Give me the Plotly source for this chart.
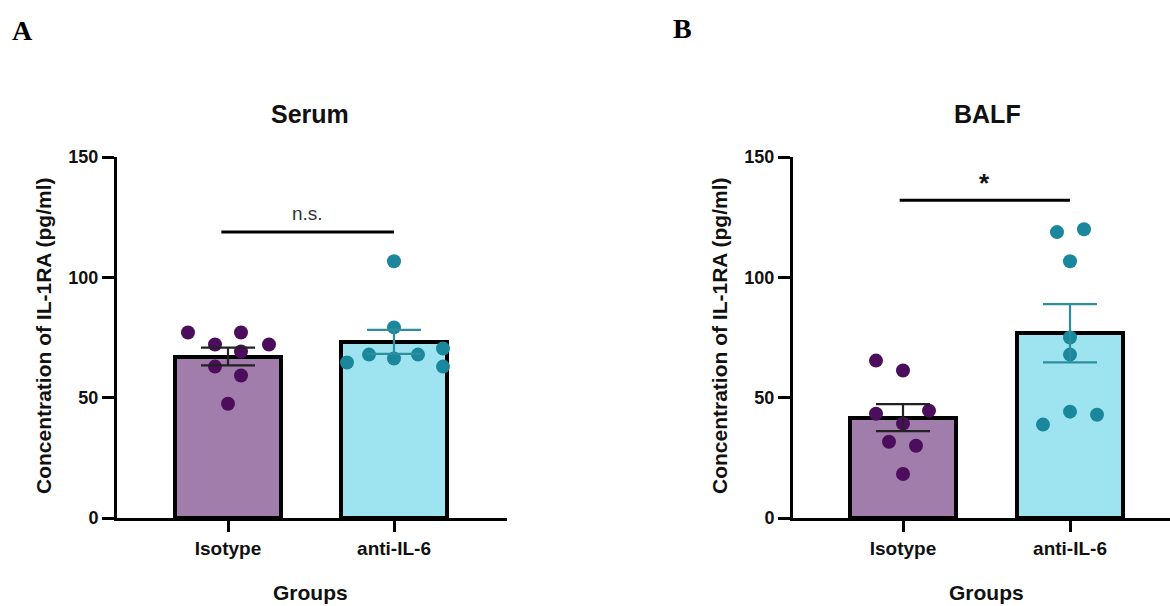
import plotly.graph_objects as go

# ---------------- data ----------------
categories = ["Isotype", "anti-IL-6"]

serum_isotype = [77.1, 77.1, 72.1, 72.1, 69.2, 62.9, 59.2, 47.5]
serum_anti = [106.7, 79.2, 64.6, 67.9, 66.3, 67.9, 70.4, 62.9]
serum_mean = [67.1, 73.2]
serum_sem = [3.7, 5.0]

balf_isotype = [65.4, 61.3, 43.3, 44.6, 39.2, 31.7, 30.0, 18.3]
balf_anti = [118.8, 120.0, 106.7, 75.0, 67.9, 38.8, 44.2, 42.9]
balf_mean = [41.7, 76.8]
balf_sem = [5.6, 12.1]

y_ticks = [0, 50, 100, 150]
serum_sig = "n.s."
balf_sig = "*"

# ---------------- layout helpers (positions / styles) ----------------
serum_iso_dx = [-40, 13, -13, 41, 13, -13, 13, 0]
serum_anti_dx = [0, 0, -47, -25, 0, 24, 49, 49]
balf_iso_dx = [-27, 0, -27, 26, 0, -14, 13, 0]
balf_anti_dx = [-13, 14, 0, 0, 0, -27, 0, 27]

W, H = 1170, 606
PX_A = 166.0
PX_B = 167.0

ISO_FILL = "#A07DAA"
ANTI_FILL = "#9EE4F0"
ISO_DOT = "#4B0D5C"
ANTI_DOT = "#1A879C"
ISO_ERR = "#222222"
ANTI_ERR = "#2C8E9F"

FONT = "Liberation Sans, Arial, sans-serif"

fig = go.Figure()


def add_panel(xa, ya, means, sems, iso_pts, anti_pts, iso_dx, anti_dx, pxu):
    fills = [ISO_FILL, ANTI_FILL]
    dots = [ISO_DOT, ANTI_DOT]
    errc = [ISO_ERR, ANTI_ERR]
    pts = [iso_pts, anti_pts]
    dxs = [iso_dx, anti_dx]
    for i in range(2):
        fig.add_trace(go.Bar(
            x=[i], y=[means[i]], width=0.64,
            marker=dict(color=fills[i], line=dict(color="black", width=4)),
            xaxis=xa, yaxis=ya, showlegend=False, hoverinfo="skip",
        ))
    for i in range(2):
        fig.add_trace(go.Scatter(
            x=[i + d / pxu for d in dxs[i]], y=pts[i], mode="markers",
            marker=dict(color=dots[i], size=14, line=dict(width=0)),
            xaxis=xa, yaxis=ya, showlegend=False, cliponaxis=False,
        ))
    for i in range(2):
        fig.add_trace(go.Scatter(
            x=[i], y=[means[i]], mode="markers",
            marker=dict(color="rgba(0,0,0,0)", size=1),
            error_y=dict(type="data", array=[sems[i]], visible=True,
                         color=errc[i], thickness=2.2, width=27),
            xaxis=xa, yaxis=ya, showlegend=False, hoverinfo="skip",
        ))


add_panel("x", "y", serum_mean, serum_sem, serum_isotype, serum_anti,
          serum_iso_dx, serum_anti_dx, PX_A)
add_panel("x2", "y2", balf_mean, balf_sem, balf_isotype, balf_anti,
          balf_iso_dx, balf_anti_dx, PX_B)

ydom = [(H - 518) / H, (H - 157) / H]

xcommon = dict(
    tickvals=[0, 1], ticktext=categories, showline=True, linewidth=3,
    linecolor="black", ticks="outside", ticklen=11, tickwidth=2.5,
    tickcolor="black", showgrid=False, zeroline=False, fixedrange=True,
    automargin=False,
    tickfont=dict(family=FONT, size=19, color="#111", weight="bold"),
)
ycommon = dict(
    range=[0, 150], tickvals=y_ticks, showline=True, linewidth=3,
    linecolor="black", ticks="outside", ticklen=12, tickwidth=2.5,
    tickcolor="black", showgrid=False, zeroline=False, fixedrange=True,
    automargin=False,
    tickfont=dict(family=FONT, size=18, color="#111", weight="bold"),
)

fig.update_layout(
    width=W, height=H, autosize=False,
    margin=dict(l=0, r=0, t=0, b=0, pad=0, autoexpand=False),
    plot_bgcolor="white", paper_bgcolor="white", bargap=0,
    xaxis=dict(domain=[117 / W, 507 / W],
               range=[-111 / PX_A, 1 + 113 / PX_A], anchor="y", **xcommon),
    yaxis=dict(domain=ydom, anchor="x", **ycommon),
    xaxis2=dict(domain=[793 / W, 1.0],
                range=[-110 / PX_B, 1 + 100 / PX_B], anchor="y2", **xcommon),
    yaxis2=dict(domain=ydom, anchor="x2", **ycommon),
)

# significance bars
fig.add_shape(type="line", xref="x", yref="y", x0=-0.04, x1=1.0,
              y0=118.8, y1=118.8, line=dict(color="black", width=3))
fig.add_shape(type="line", xref="x2", yref="y2", x0=-0.02, x1=1.0,
              y0=132, y1=132, line=dict(color="black", width=3))

C = dict(xanchor="center", yanchor="middle", showarrow=False)
ann = []
ann.append(dict(text=serum_sig, xref="x", yref="y", x=0.476, y=126.5,
                font=dict(family=FONT, size=19, color="#333"), **C))
ann.append(dict(text=balf_sig, xref="x2", yref="y2", x=0.49, y=139,
                font=dict(family=FONT, size=26, color="#111", weight="bold"),
                **C))
# panel titles
ann.append(dict(text="Serum", xref="x", yref="paper", x=0.494,
                y=(H - 114) / H,
                font=dict(family=FONT, size=25, color="#111", weight="bold"),
                **C))
ann.append(dict(text="BALF", xref="x2", yref="paper", x=0.503,
                y=(H - 114) / H,
                font=dict(family=FONT, size=25, color="#111", weight="bold"),
                **C))
# x titles
for xr, xv in (("x", 0.494), ("x2", 0.497)):
    ann.append(dict(text="Groups", xref=xr, yref="paper", x=xv,
                    y=(H - 592) / H,
                    font=dict(family=FONT, size=21, color="#111",
                              weight="bold"), **C))
# y titles
for xp in (43, 719):
    ann.append(dict(text="Concentration of IL-1RA (pg/ml)", xref="paper",
                    yref="paper", x=xp / W, y=(H - 336) / H, textangle=-90,
                    font=dict(family=FONT, size=21, color="#111",
                              weight="bold"), **C))
# panel letters
ann.append(dict(text="A", xref="paper", yref="paper", x=22 / W, y=(H - 30) / H,
                font=dict(family="Liberation Serif, Times New Roman, serif",
                          size=28, color="black", weight="bold"), **C))
ann.append(dict(text="B", xref="paper", yref="paper", x=682 / W,
                y=(H - 29) / H,
                font=dict(family="Liberation Serif, Times New Roman, serif",
                          size=28, color="black", weight="bold"), **C))

fig.update_layout(annotations=ann)

fig.write_html("out.html")
